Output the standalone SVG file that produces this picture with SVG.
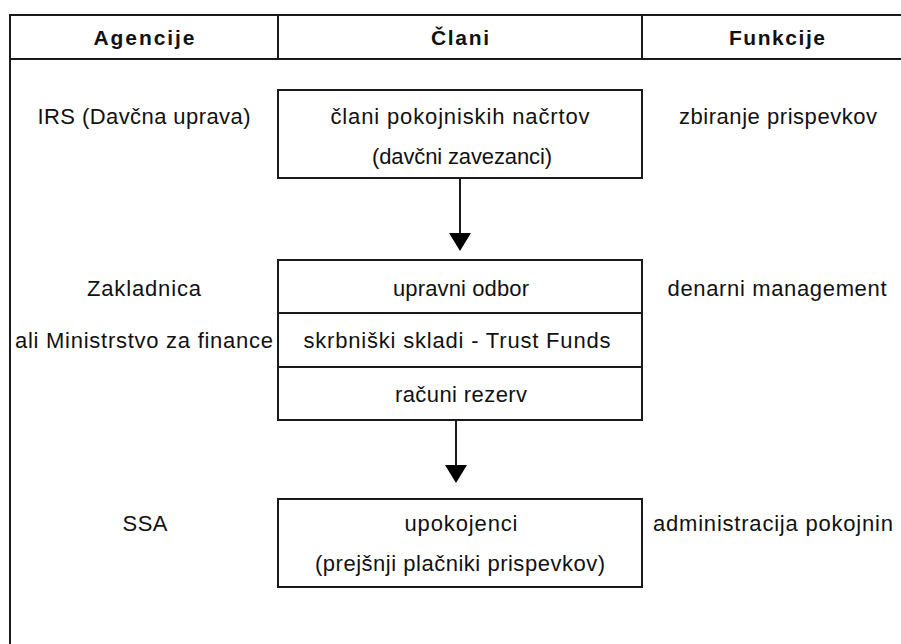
<svg xmlns="http://www.w3.org/2000/svg" width="901" height="644" viewBox="0 0 901 644">
<style>
.ln{stroke:#1a1a1a;stroke-width:2;fill:none}
.bx{stroke:#1a1a1a;stroke-width:2;fill:#fff}
text{font-family:"Liberation Sans",Arial,sans-serif;font-size:22px;fill:#111;text-anchor:middle}
.h{font-weight:bold;font-size:21px}
.ar{fill:#000}
</style>
<rect width="901" height="644" fill="#fff"/>
<g id="frame">
<path class="ln" d="M10,644 V15 H901 M10,59 H901 M278,15 V59 M642,15 V59"/>
<text class="h" x="144" y="45" textLength="101" lengthAdjust="spacing">Agencije</text>
<text class="h" x="460" y="45" textLength="58" lengthAdjust="spacing">Člani</text>
<text class="h" x="777" y="45" textLength="96" lengthAdjust="spacing">Funkcije</text>
</g>
<g id="agency-irs"><text x="144" y="124" textLength="213" lengthAdjust="spacing">IRS (Davčna uprava)</text></g>
<g id="node-clani">
<rect class="bx" x="278" y="90" width="364" height="88"/>
<text x="460" y="124" textLength="259" lengthAdjust="spacing">člani pokojniskih načrtov</text>
<text x="462" y="164" textLength="180" lengthAdjust="spacing">(davčni zavezanci)</text>
</g>
<g id="func-zbiranje"><text x="778" y="124" textLength="198" lengthAdjust="spacing">zbiranje prispevkov</text></g>
<g id="agency-zakladnica">
<text x="144" y="296" textLength="114" lengthAdjust="spacing">Zakladnica</text>
<text x="144" y="348" textLength="258" lengthAdjust="spacing">ali Ministrstvo za finance</text>
</g>
<g id="node-odbor">
<rect class="bx" x="278" y="260" width="364" height="160"/>
<path class="ln" d="M278,313 H642 M278,367 H642"/>
<text x="461" y="296" textLength="136" lengthAdjust="spacing">upravni odbor</text>
<text x="457" y="348" textLength="307" lengthAdjust="spacing">skrbniški skladi - Trust Funds</text>
<text x="461" y="402" textLength="132" lengthAdjust="spacing">računi rezerv</text>
</g>
<g id="func-denarni"><text x="777" y="296" textLength="219" lengthAdjust="spacing">denarni management</text></g>
<g id="agency-ssa"><text x="145" y="531" textLength="45" lengthAdjust="spacing">SSA</text></g>
<g id="node-upokojenci">
<rect class="bx" x="278" y="499" width="364" height="88"/>
<text x="461" y="531" textLength="113" lengthAdjust="spacing">upokojenci</text>
<text x="460" y="571" textLength="290" lengthAdjust="spacing">(prejšnji plačniki prispevkov)</text>
</g>
<g id="func-admin"><text x="773" y="531" textLength="240" lengthAdjust="spacing">administracija pokojnin</text></g>
<g id="connectors">
<path class="ln" d="M460,179 V235"/>
<polygon class="ar" points="449,233 471,233 460,251"/>
<path class="ln" d="M456,421 V467"/>
<polygon class="ar" points="445,465 467,465 456,483"/>
</g>
</svg>
